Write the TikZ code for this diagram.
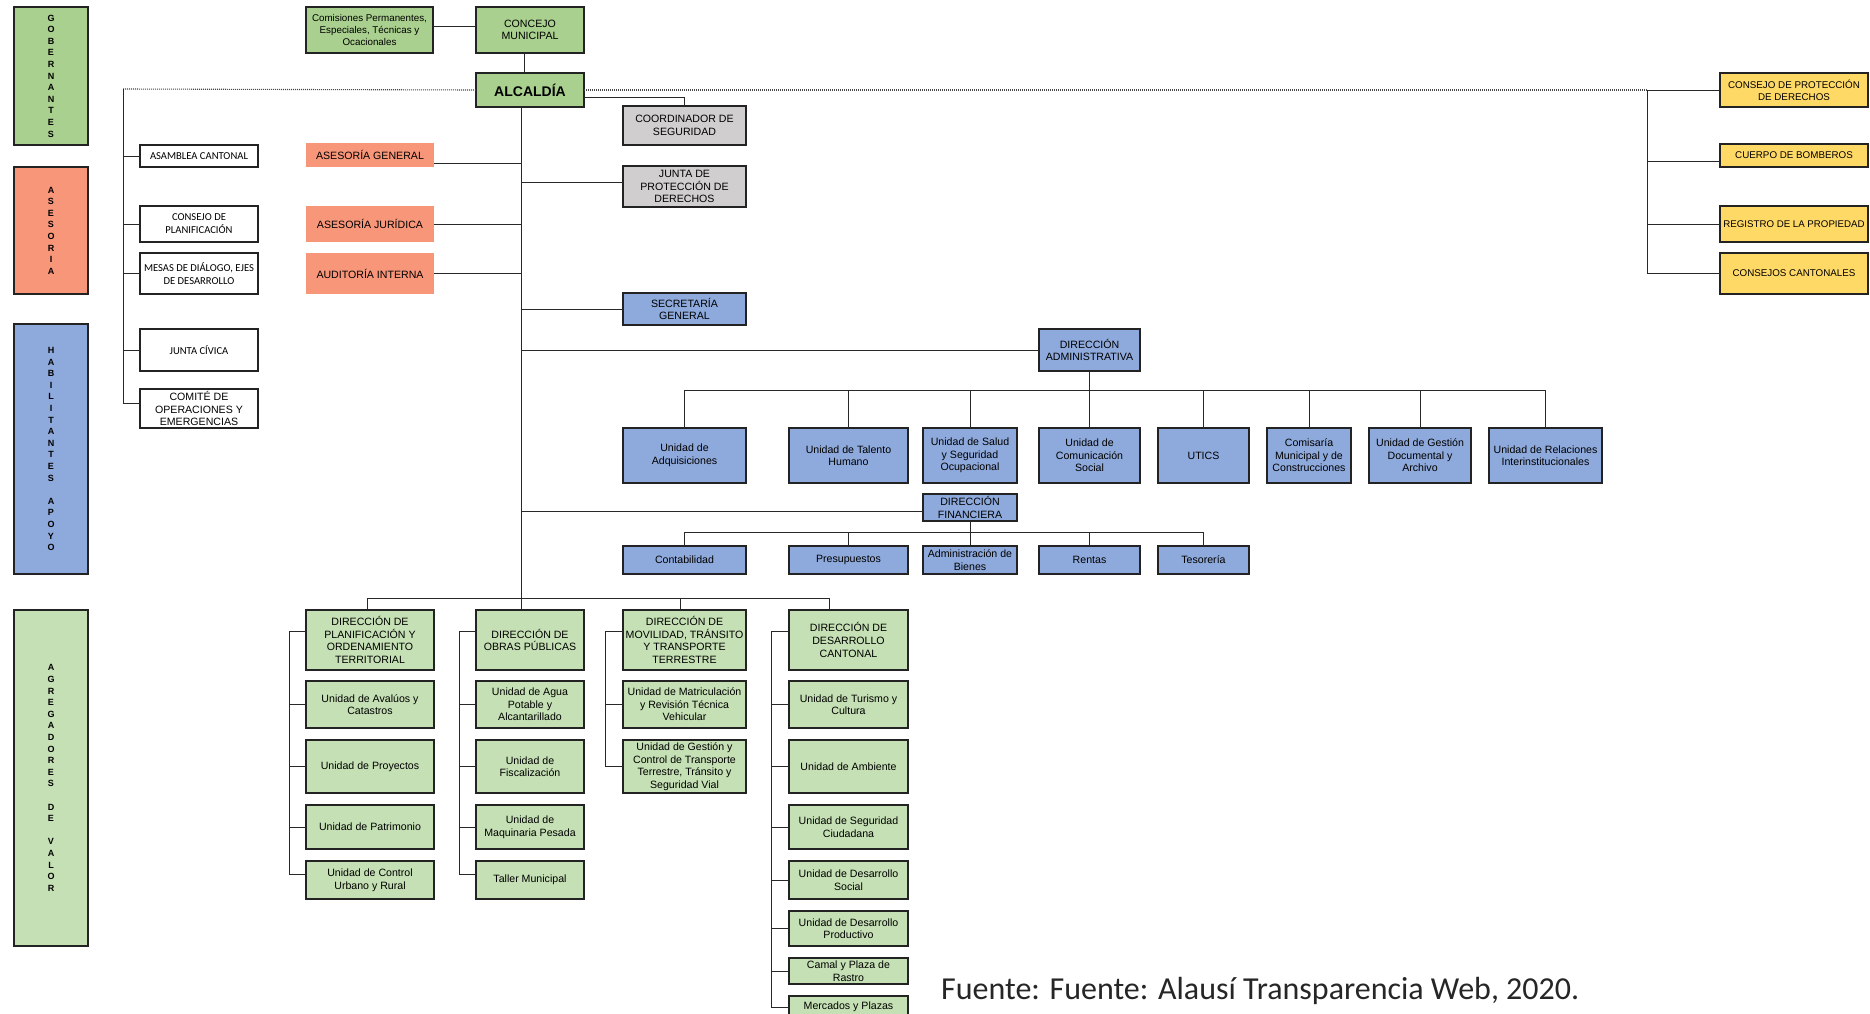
\documentclass[tikz,border=0pt]{standalone}
\usepackage{fontspec}
\setmainfont{Liberation Sans}
\newfontfamily\carl{Carlito}
\definecolor{gA}{RGB}{169,208,142}
\definecolor{gB}{RGB}{197,224,180}
\definecolor{sal}{RGB}{248,150,122}
\definecolor{blu}{RGB}{142,169,219}
\definecolor{gry}{RGB}{208,206,206}
\definecolor{yel}{RGB}{255,217,102}
\definecolor{bordc}{RGB}{35,35,35}
\definecolor{linec}{RGB}{40,40,40}
\tikzset{
  bx/.style={draw=bordc, line width=1.1pt, inner sep=0.5pt, outer sep=0pt, align=center,
    font=\fontsize{10.6}{12.6}\selectfont, text=black},
  colh/.style={draw=bordc, line width=1.3pt, inner sep=0pt, outer sep=0pt, align=center,
    font=\bfseries\fontsize{9}{11.6}\selectfont},
  wbox/.style={bx, fill=white, font=\carl\fontsize{10.6}{13}\selectfont},
  sbox/.style={bx, draw=none, fill=sal},
  conn/.style={draw=linec, line width=1pt},
  dotline/.style={draw=linec!85, line width=1.1pt, dash pattern=on 1pt off 1pt},
}
\newcommand\obox[7]{\node[#2, minimum width={(#5)-(#3)}, minimum height={(#6)-(#4)}] (#1) at ({((#3)+(#5))/2},{((#4)+(#6))/2}) {#7};}
\begin{document}
\begin{tikzpicture}[x=1pt,y=-1pt]
\useasboundingbox (0,0) rectangle (1870,1013);
\fill[white] (0,0) rectangle (1870,1013);
\clip (0,0) rectangle (1870,1013);

% ---------- column headers ----------
\obox{gob}{colh,fill=gA}{14}{7}{88}{145}{G\\O\\B\\E\\R\\N\\A\\N\\T\\E\\S}
\obox{ase}{colh,fill=sal}{14}{167}{88}{294}{A\\S\\E\\S\\O\\R\\I\\A}
\obox{hab}{colh,fill=blu}{14}{324}{88}{574}{H\\A\\B\\I\\L\\I\\T\\A\\N\\T\\E\\S\\[11.6pt]A\\P\\O\\Y\\O}
\obox{agr}{colh,fill=gB}{14}{610}{88}{946}{A\\G\\R\\E\\G\\A\\D\\O\\R\\E\\S\\[11.6pt]D\\E\\[11.6pt]V\\A\\L\\O\\R}

% ---------- top ----------
\obox{com}{bx,fill=gA,font=\fontsize{9.8}{11.6}\selectfont}{306}{7}{433}{53}{Comisiones Permanentes,\\Especiales, Técnicas y\\Ocacionales}
\obox{con}{bx,fill=gA}{476}{7}{584}{53}{CONCEJO\\MUNICIPAL}
\obox{alc}{bx,fill=gA,font=\bfseries\fontsize{14}{16}\selectfont}{476}{73}{584}{107}{ALCALDÍA}
\obox{coord}{bx,fill=gry}{623}{106}{746}{145}{COORDINADOR DE\\SEGURIDAD}
\obox{jpd}{bx,fill=gry}{623}{166}{746}{207}{JUNTA DE\\PROTECCIÓN DE\\DERECHOS}
\obox{sec}{bx,fill=blu}{623}{293}{746}{325}{SECRETARÍA\\GENERAL}

% ---------- left white boxes ----------
\obox{asam}{wbox}{140}{145}{258}{167}{ASAMBLEA CANTONAL}
\obox{cplan}{wbox}{140}{206}{258}{242}{CONSEJO DE\\PLANIFICACIÓN}
\obox{mesas}{wbox}{140}{253}{258}{294}{MESAS DE DIÁLOGO, EJES\\DE DESARROLLO}
\obox{jciv}{wbox}{140}{329}{258}{371}{JUNTA CÍVICA}
\obox{comite}{bx,fill=white}{140}{389}{258}{428}{COMITÉ DE\\OPERACIONES Y\\EMERGENCIAS}

% ---------- advisory ----------
\obox{ag}{sbox}{306}{143}{434}{167}{ASESORÍA GENERAL}
\obox{aj}{sbox}{306}{206}{434}{242}{ASESORÍA JURÍDICA}
\obox{ai}{sbox}{306}{253}{434}{294}{AUDITORÍA INTERNA}

% ---------- yellow ----------
\obox{cpd}{bx,fill=yel,font=\fontsize{9.8}{12}\selectfont}{1720}{73}{1868}{107}{CONSEJO DE PROTECCIÓN\\DE DERECHOS}
\obox{cb}{bx,fill=yel,font=\fontsize{9.8}{12}\selectfont}{1720}{144}{1868}{167}{CUERPO DE BOMBEROS}
\obox{rp}{bx,fill=yel,font=\fontsize{9.7}{12}\selectfont,inner sep=0pt}{1720}{206}{1868}{242}{REGISTRO DE LA PROPIEDAD}
\obox{cc}{bx,fill=yel,font=\fontsize{9.8}{12}\selectfont}{1720}{253}{1868}{294}{CONSEJOS CANTONALES}

% ---------- administrative ----------
\obox{da}{bx,fill=blu}{1039}{329}{1140}{371}{DIRECCIÓN\\ADMINISTRATIVA}
\obox{u1}{bx,fill=blu}{623}{428}{746}{483}{Unidad de\\Adquisiciones}
\obox{u2}{bx,fill=blu}{789}{428}{908}{483}{Unidad de Talento\\Humano}
\obox{u3}{bx,fill=blu}{923}{428}{1017}{483}{Unidad de Salud\\y Seguridad\\Ocupacional}
\obox{u4}{bx,fill=blu}{1039}{428}{1140}{483}{Unidad de\\Comunicación\\Social}
\obox{u5}{bx,fill=blu}{1158}{428}{1249}{483}{UTICS}
\obox{u6}{bx,fill=blu}{1267}{428}{1351}{483}{Comisaría\\Municipal y de\\Construcciones}
\obox{u7}{bx,fill=blu}{1369}{428}{1471}{483}{Unidad de Gestión\\Documental y\\Archivo}
\obox{u8}{bx,fill=blu,inner sep=0pt}{1489}{428}{1602}{483}{Unidad de Relaciones\\Interinstitucionales}

% ---------- financial ----------
\obox{df}{bx,fill=blu}{923}{494}{1017}{521}{DIRECCIÓN\\FINANCIERA}
\obox{f1}{bx,fill=blu}{623}{546}{746}{574}{Contabilidad}
\obox{f2}{bx,fill=blu}{789}{546}{908}{574}{Presupuestos}
\obox{f3}{bx,fill=blu}{923}{546}{1017}{574}{Administración de\\Bienes}
\obox{f4}{bx,fill=blu}{1039}{546}{1140}{574}{Rentas}
\obox{f5}{bx,fill=blu}{1158}{546}{1249}{574}{Tesorería}

% ---------- value adders ----------
\obox{dpot}{bx,fill=gB}{306}{610}{434}{670}{DIRECCIÓN DE\\PLANIFICACIÓN Y\\ORDENAMIENTO\\TERRITORIAL}
\obox{p1}{bx,fill=gB}{306}{681}{434}{728}{Unidad de Avalúos y\\Catastros}
\obox{p2}{bx,fill=gB}{306}{740}{434}{793}{Unidad de Proyectos}
\obox{p3}{bx,fill=gB}{306}{805}{434}{849}{Unidad de Patrimonio}
\obox{p4}{bx,fill=gB}{306}{861}{434}{899}{Unidad de Control\\Urbano y Rural}

\obox{dop}{bx,fill=gB}{476}{610}{584}{670}{DIRECCIÓN DE\\OBRAS PÚBLICAS}
\obox{o1}{bx,fill=gB}{476}{681}{584}{728}{Unidad de Agua\\Potable y\\Alcantarillado}
\obox{o2}{bx,fill=gB}{476}{740}{584}{793}{Unidad de\\Fiscalización}
\obox{o3}{bx,fill=gB}{476}{805}{584}{849}{Unidad de\\Maquinaria Pesada}
\obox{o4}{bx,fill=gB}{476}{861}{584}{899}{Taller Municipal}

\obox{dmt}{bx,fill=gB,inner sep=0pt}{623}{610}{746}{670}{DIRECCIÓN DE\\MOVILIDAD, TRÁNSITO\\Y TRANSPORTE\\TERRESTRE}
\obox{m1}{bx,fill=gB,inner sep=0pt}{623}{681}{746}{728}{Unidad de Matriculación\\y Revisión Técnica\\Vehicular}
\obox{m2}{bx,fill=gB}{623}{740}{746}{793}{Unidad de Gestión y\\Control de Transporte\\Terrestre, Tránsito y\\Seguridad Vial}

\obox{ddc}{bx,fill=gB}{789}{610}{908}{670}{DIRECCIÓN DE\\DESARROLLO\\CANTONAL}
\obox{d1}{bx,fill=gB}{789}{681}{908}{728}{Unidad de Turismo y\\Cultura}
\obox{d2}{bx,fill=gB}{789}{740}{908}{793}{Unidad de  Ambiente}
\obox{d3}{bx,fill=gB}{789}{805}{908}{849}{Unidad de Seguridad\\Ciudadana}
\obox{d4}{bx,fill=gB}{789}{861}{908}{899}{Unidad de Desarrollo\\Social}
\obox{d5}{bx,fill=gB}{789}{911}{908}{946}{Unidad de Desarrollo\\Productivo}
\obox{d6}{bx,fill=gB}{789}{958}{908}{984}{Camal y Plaza de\\Rastro}
\obox{d7}{bx,fill=gB}{789}{996}{908}{1018}{Mercados y Plazas}

\node[anchor=base west, inner sep=0pt, font=\carl\fontsize{32}{36}\selectfont, text=black!85] (src) at (941,999) {Fuente: Fuente: Alausí Transparencia Web, 2020.};

% ---------- connectors ----------
\coordinate (mv) at (521,0);
\coordinate (lv) at (123,89);
\coordinate (rv) at (1647,90);

\draw[conn] ([yshift=4pt]com.east) -- ([yshift=4pt]con.west);
\draw[conn] ([xshift=-6pt]con.south) -- ([xshift=-6pt]alc.north);
\draw[dotline] (lv) -- (alc.west);
\draw[dotline] (alc.east) -- (rv);

% main vertical
\draw[conn] (alc.south -| mv) -- (dop.north -| mv);
\coordinate (agc) at ([yshift=-8pt]ag.east);
\draw[conn] (agc) -- (agc -| mv);
\draw[conn] (aj.east) -- (aj.east -| mv);
\draw[conn] (ai.east) -- (ai.east -| mv);
\coordinate (alcc) at ([yshift=-7pt]alc.east);
\draw[conn] (alcc) -| (coord.north);
\coordinate (jpdc) at ([yshift=4.5pt]jpd.west);
\draw[conn] (jpdc) -- (jpdc -| mv);
\draw[conn] (sec.west) -- (sec.west -| mv);
\draw[conn] (da.west) -- (da.west -| mv);
\coordinate (dfc) at ([yshift=-3.5pt]df.west);
\draw[conn] (dfc) -- (dfc -| mv);

% left column
\coordinate (comc) at ([yshift=5.5pt]comite.west);
\draw[conn] (lv) -- (comc -| lv) -- (comc);
\foreach \n in {asam,cplan,mesas,jciv} \draw[conn] (\n.west) -- (\n.west -| lv);

% right column
\draw[conn] (rv) -- (cpd.west);
\draw[conn] (rv) |- (cc.west);
\coordinate (cbc) at ([yshift=-5.5pt]cb.west);
\draw[conn] (cbc) -- (cbc -| rv);
\draw[conn] (rp.west) -- (rp.west -| rv);

% administrative bus
\coordinate (dab) at (0,390);
\draw[conn] (da.south) -- (da.south |- dab);
\draw[conn] (u1.north |- dab) -- (u8.north |- dab);
\foreach \n in {u1,u2,u3,u4,u5,u6,u7,u8} \draw[conn] (\n.north) -- (\n.north |- dab);

% financial bus
\coordinate (dfb) at (0,532);
\draw[conn] (df.south) -- (f3.north);
\draw[conn] (f1.north |- dfb) -- (f5.north |- dfb);
\foreach \n in {f1,f2,f4,f5} \draw[conn] (\n.north) -- (\n.north |- dfb);

% value adders bus
\coordinate (vb) at (0,598);
\coordinate (ddcd) at ([xshift=-19pt]ddc.north);
\coordinate (dmtd) at ([xshift=-4pt]dmt.north);
\coordinate (dpotd) at ([xshift=-3pt]dpot.north);
\draw[conn] (dpotd |- vb) -- (ddcd |- vb);
\draw[conn] (dpotd) -- (dpotd |- vb);
\draw[conn] (dmtd) -- (dmtd |- vb);
\draw[conn] (ddcd) -- (ddcd |- vb);

% brackets
\coordinate (bp) at (289,0);
\coordinate (dpott) at ([yshift=9pt]dpot.west);
\coordinate (p4t) at ([yshift=6pt]p4.west);
\draw[conn] (dpott) -- (dpott -| bp) -- (p4t -| bp) -- (p4t);
\foreach \n in {p1,p2,p3} \draw[conn] (\n.west) -- (\n.west -| bp);

\coordinate (bo) at (459,0);
\coordinate (dopt) at ([yshift=9pt]dop.west);
\coordinate (o4t) at ([yshift=6pt]o4.west);
\draw[conn] (dopt) -- (dopt -| bo) -- (o4t -| bo) -- (o4t);
\foreach \n in {o1,o2,o3} \draw[conn] (\n.west) -- (\n.west -| bo);

\coordinate (bm) at (605,0);
\coordinate (dmtt) at ([yshift=9pt]dmt.west);
\draw[conn] (dmtt) -- (dmtt -| bm) -- (m2.west -| bm) -- (m2.west);
\draw[conn] (m1.west) -- (m1.west -| bm);

\coordinate (bd) at (771,0);
\coordinate (ddct) at ([yshift=9pt]ddc.west);
\draw[conn] (ddct) -- (ddct -| bd) -- (d7.west -| bd) -- (d7.west);
\foreach \n in {d1,d2,d3,d4,d5,d6} \draw[conn] (\n.west) -- (\n.west -| bd);
\end{tikzpicture}
\end{document}
